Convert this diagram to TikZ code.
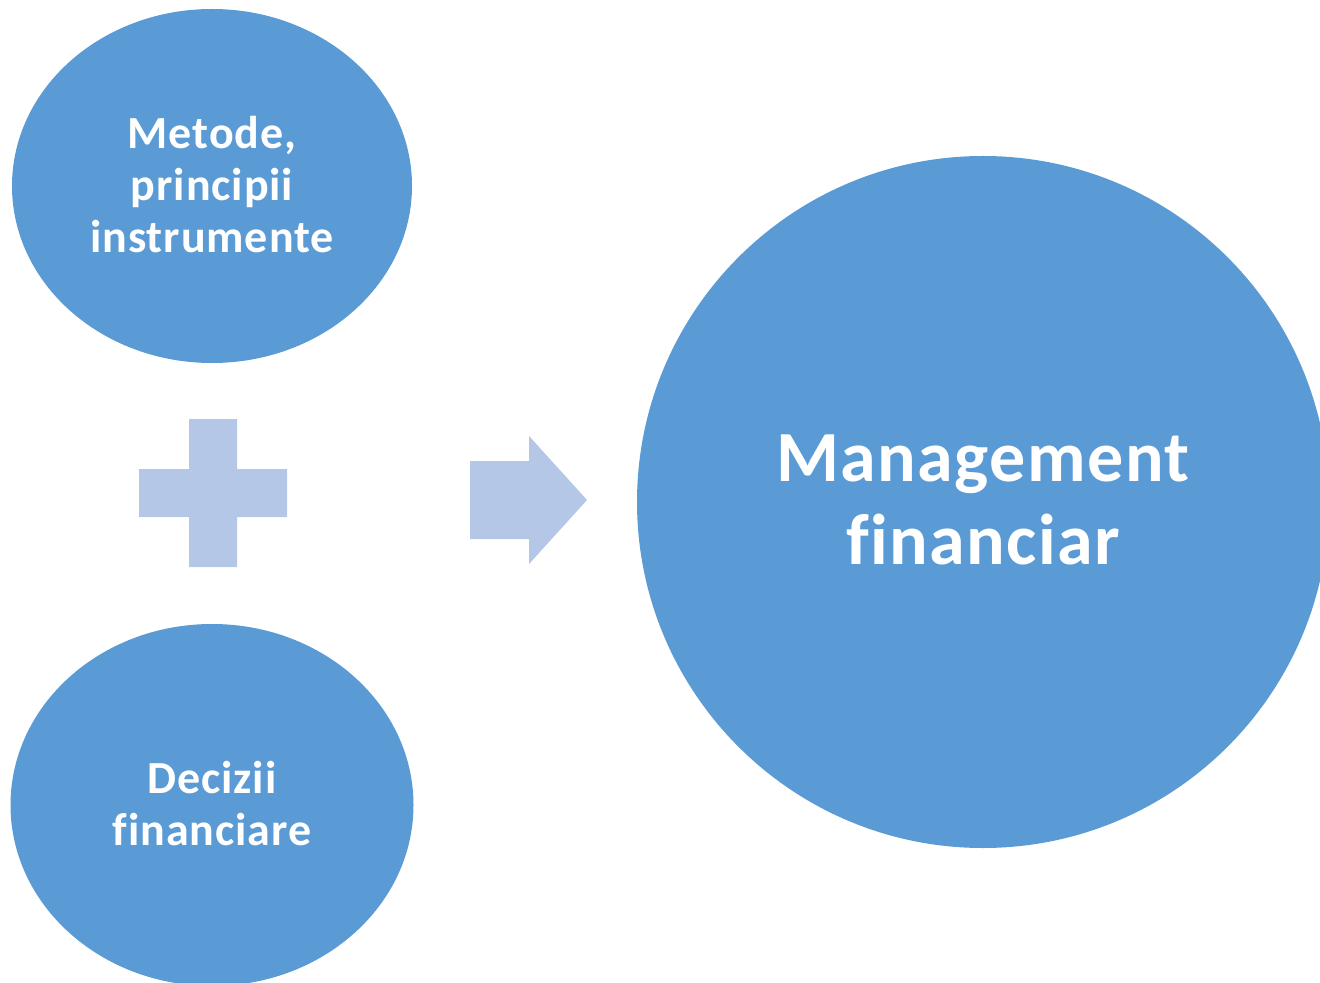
\documentclass[tikz,border=0pt]{standalone}
\usepackage{fontspec}
\setmainfont{Carlito}[Ligatures=NoCommon]
\newfontfamily\smallsp{Carlito}[Ligatures=NoCommon,LetterSpace=2]
\newfontfamily\bigsp{Carlito}[Ligatures=NoCommon,LetterSpace=2]
\usetikzlibrary{shapes.geometric}
\definecolor{blobblue}{HTML}{5B9BD5}
\definecolor{lightblue}{HTML}{B4C7E7}
\tikzset{
  blob/.style={ellipse, fill=blobblue, draw=none, inner sep=0pt},
  blobtext/.style={text=white, align=center},
  light/.style={fill=lightblue, draw=none}
}
\begin{document}
\begin{tikzpicture}[x=0.5pt,y=-0.5pt]
\useasboundingbox (0,0) rectangle (1320,983);
\clip (0,0) rectangle (1320,983);
% ellipses
\node[blob, minimum width=400pt*0.5, minimum height=354pt*0.5] (m) at (212,186) {};
\node[blob, minimum width=403pt*0.5, minimum height=362pt*0.5] (d) at (212,805) {};
\node[blob, minimum width=692pt*0.5, minimum height=692pt*0.5] (mf) at (983,502) {};
% texts
\node[blobtext, font=\smallsp\fontsize{23}{26}\selectfont\bfseries] (mt) at (212,185) {Metode,\\principii\\instrumente};
\node[blobtext, font=\smallsp\fontsize{23}{26}\selectfont\bfseries] (dt) at (212,804) {Decizii\\financiare};
\node[blobtext, font=\bigsp\fontsize{36}{41.5}\selectfont\bfseries] (mft) at (983,500) {Management\\financiar};
% plus
\path[light] (189,419) -- (237,419) -- (237,469) -- (287,469) -- (287,517) -- (237,517)
  -- (237,567) -- (189,567) -- (189,517) -- (139,517) -- (139,469) -- (189,469) -- cycle;
% arrow
\path[light] (470,461) -- (529,461) -- (529,436) -- (587,500) -- (529,564) -- (529,539) -- (470,539) -- cycle;
\end{tikzpicture}
\end{document}
